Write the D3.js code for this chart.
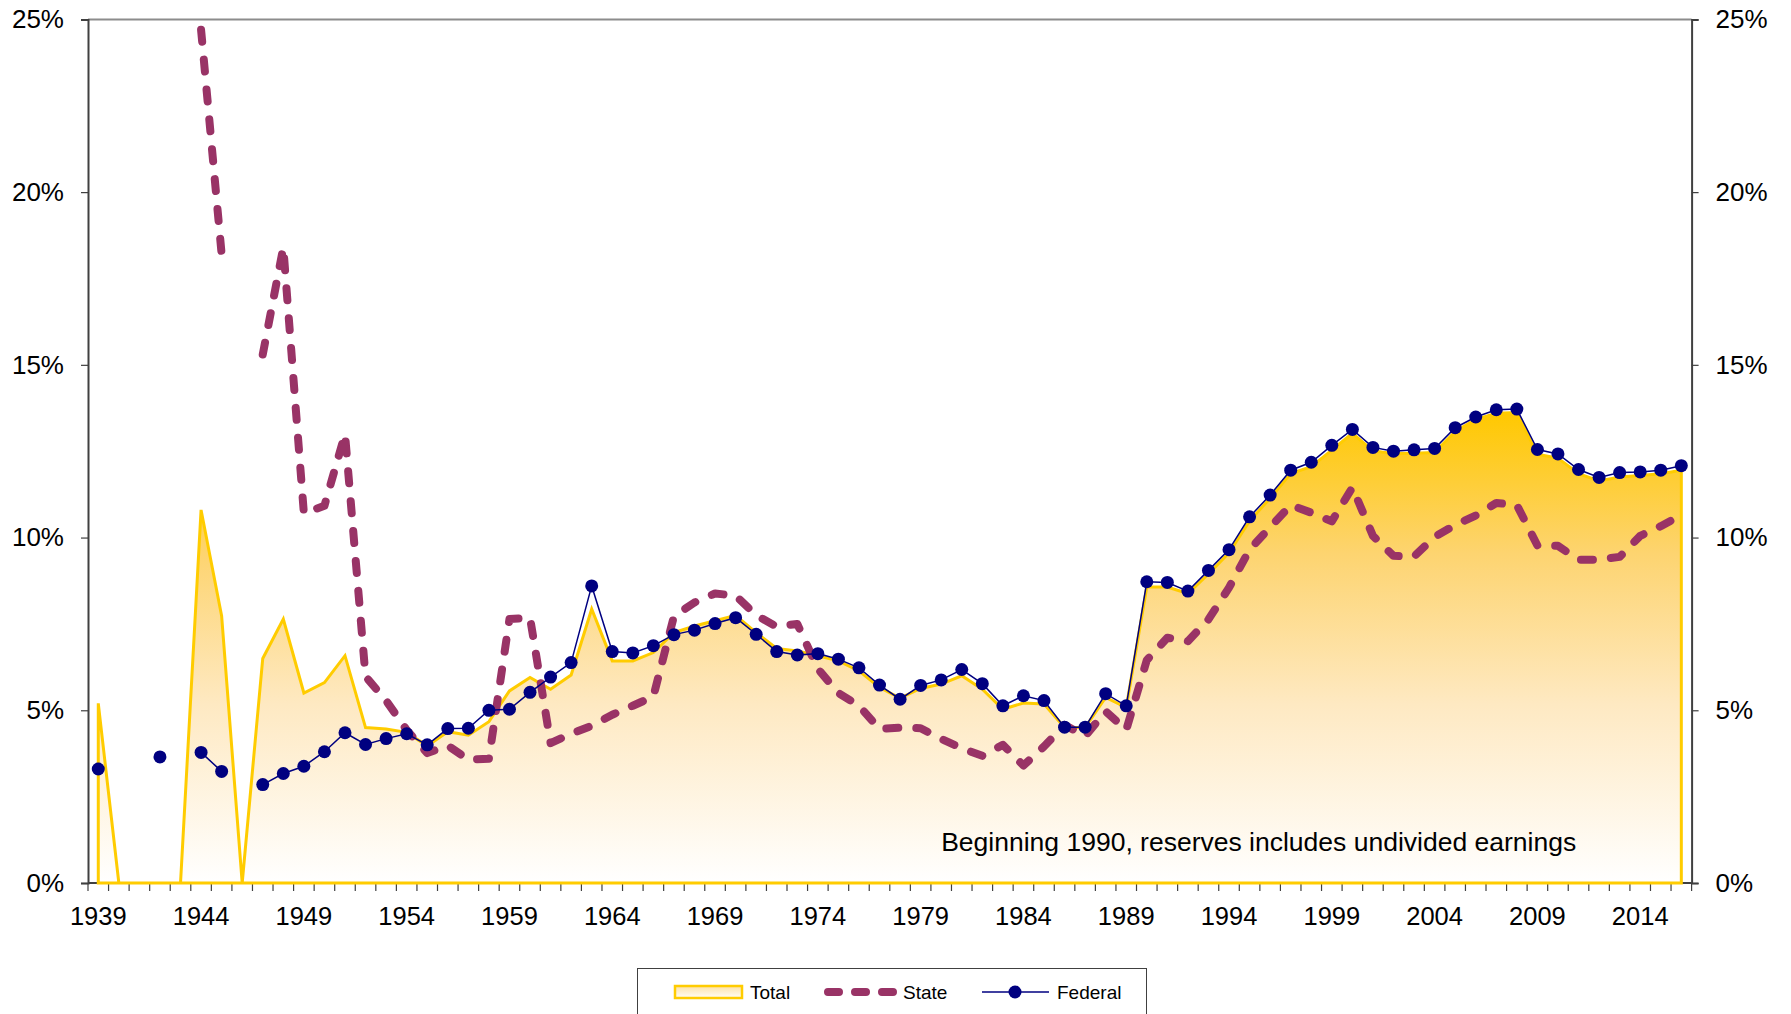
<!DOCTYPE html>
<html lang="en">
	<head>
		<meta charset="utf-8">
		<title>Reserves ratio: Total, State, Federal</title>
		<script src="https://cdn.jsdelivr.net/npm/d3@7"></script>
		<style type="text/css">
			body {
				margin: 0;
				background: #ffffff;
			}
			text {
				font-family: "Liberation Sans", Arial, sans-serif;
				fill: #000000;
			}
		</style>
	</head>
	<body>
		<div id="main"></div>

		<script type="text/javascript">

			// categories
			var years = [1939, 1940, 1941, 1942, 1943, 1944, 1945, 1946, 1947, 1948,
				1949, 1950, 1951, 1952, 1953, 1954, 1955, 1956, 1957, 1958,
				1959, 1960, 1961, 1962, 1963, 1964, 1965, 1966, 1967, 1968,
				1969, 1970, 1971, 1972, 1973, 1974, 1975, 1976, 1977, 1978,
				1979, 1980, 1981, 1982, 1983, 1984, 1985, 1986, 1987, 1988,
				1989, 1990, 1991, 1992, 1993, 1994, 1995, 1996, 1997, 1998,
				1999, 2000, 2001, 2002, 2003, 2004, 2005, 2006, 2007, 2008,
				2009, 2010, 2011, 2012, 2013, 2014, 2015, 2016];

			// series values, percent (null = no value that year)
			var total = [5.2, 0, 0, 0, 0, 10.8, 7.73, 0, 6.5, 7.64,
				5.5, 5.8, 6.58, 4.5, 4.46, 4.36, 3.97, 4.38, 4.28, 4.67,
				5.56, 5.95, 5.61, 6.02, 7.93, 6.43, 6.43, 6.67, 7.25, 7.44,
				7.59, 7.75, 7.25, 6.79, 6.72, 6.58, 6.43, 6.14, 5.66, 5.35,
				5.63, 5.76, 6.0, 5.61, 5.03, 5.21, 5.18, 4.5, 4.5, 5.37,
				5.08, 8.57, 8.57, 8.38, 8.95, 9.56, 10.48, 11.14, 11.85, 12.05,
				12.53, 13.02, 12.51, 12.43, 12.44, 12.46, 13.07, 13.42, 13.6, 13.62,
				12.41, 12.3, 11.85, 11.64, 11.75, 11.8, 11.85, 11.95];

			var state = [null, null, null, null, null, 24.7, 18.2, null, 15.3, 18.4,
				10.7, 10.92, 13.0, 5.98, 5.28, 4.43, 3.76, 3.98, 3.57, 3.6,
				7.64, 7.68, 4.05, 4.32, 4.55, 4.87, 5.13, 5.4, 7.72, 8.12,
				8.38, 8.32, 7.75, 7.42, 7.5, 6.2, 5.5, 5.13, 4.46, 4.5,
				4.48, 4.17, 3.9, 3.68, 4.0, 3.4, 3.95, 4.58, 4.25, 4.97,
				4.43, 6.45, 7.1, 7.0, 7.63, 8.55, 9.65, 10.3, 10.94, 10.72,
				10.47, 11.45, 10.05, 9.47, 9.45, 10.02, 10.36, 10.64, 11.0, 10.94,
				9.77, 9.76, 9.36, 9.36, 9.44, 10.05, 10.33, 10.65];

			var federal = [3.3, null, null, 3.65, null, 3.78, 3.23, null, 2.85, 3.17,
				3.38, 3.8, 4.35, 4.01, 4.18, 4.32, 4.0, 4.47, 4.48, 5.0,
				5.03, 5.52, 5.96, 6.38, 8.6, 6.7, 6.66, 6.87, 7.19, 7.32,
				7.51, 7.68, 7.2, 6.7, 6.6, 6.64, 6.48, 6.23, 5.73, 5.32,
				5.72, 5.88, 6.18, 5.77, 5.13, 5.42, 5.28, 4.51, 4.51, 5.48,
				5.13, 8.72, 8.7, 8.45, 9.05, 9.65, 10.6, 11.23, 11.95, 12.18,
				12.67, 13.13, 12.61, 12.5, 12.54, 12.58, 13.18, 13.49, 13.7, 13.72,
				12.55, 12.42, 11.97, 11.74, 11.88, 11.9, 11.95, 12.08];

			// tick labels
			var yTicks = [0, 5, 10, 15, 20, 25];
			var yearLabels = years.filter(function(d, i) { return i % 5 === 0; });
			var legendNames = ["Total", "State", "Federal"];
			var note = "Beginning 1990, reserves includes undivided earnings";

			var w = 1791;
			var h = 1014;
			var plotL = 88, plotR = 1691.6, plotT = 19.4, plotB = 883;

			var svg = d3.select("#main")
						.append("svg")
						.attr("width", w)
						.attr("height", h);

			var x = d3.scaleBand()
				.domain(years)
				.range([plotL, plotR])
				.padding(0);

			var y = d3.scaleLinear()
				.domain([0, 25])
				.range([plotB, plotT]);

			function cx(d, i) {
				return x(years[i]) + x.bandwidth() / 2;
			}

			// gradient for the total area
			var defs = svg.append("defs");
			var grad = defs.append("linearGradient")
				.attr("id", "totalFill")
				.attr("gradientUnits", "userSpaceOnUse")
				.attr("x1", 0).attr("x2", 0)
				.attr("y1", y(d3.max(total))).attr("y2", y(0));
			grad.append("stop").attr("offset", 0).attr("stop-color", "#ffc800");
			grad.append("stop").attr("offset", 0.3).attr("stop-color", "#fdd470");
			grad.append("stop").attr("offset", 0.62).attr("stop-color", "#fee9c2");
			grad.append("stop").attr("offset", 1).attr("stop-color", "#ffffff");

			var swatchGrad = defs.append("linearGradient")
				.attr("id", "swatchFill")
				.attr("x1", 0).attr("x2", 0)
				.attr("y1", 0).attr("y2", 1);
			swatchGrad.append("stop").attr("offset", 0).attr("stop-color", "#fde2a6");
			swatchGrad.append("stop").attr("offset", 1).attr("stop-color", "#fffdf8");

			// plot frame: top border
			svg.append("line")
				.attr("x1", plotL).attr("x2", plotR)
				.attr("y1", plotT).attr("y2", plotT)
				.attr("stroke", "#8c8c8c")
				.attr("stroke-width", 2);

			// x axis line and year ticks at category edges
			svg.append("line")
				.attr("x1", plotL).attr("x2", plotR)
				.attr("y1", plotB).attr("y2", plotB)
				.attr("stroke", "#404040")
				.attr("stroke-width", 2);

			svg.append("g")
				.selectAll("line")
				.data(years.concat([null]))
				.enter()
				.append("line")
				.attr("x1", function(d) { return d === null ? plotR : x(d); })
				.attr("x2", function(d) { return d === null ? plotR : x(d); })
				.attr("y1", plotB)
				.attr("y2", plotB + 8)
				.attr("stroke", "#404040")
				.attr("stroke-width", 1.2);

			var xAxis = svg.append("g")
				.attr("transform", "translate(0," + plotB + ")")
				.call(d3.axisBottom(x).tickValues(yearLabels).tickSize(0).tickPadding(24));
			xAxis.select(".domain").remove();
			xAxis.selectAll("text")
				.style("font-size", "25.5px")
				.attr("dy", "0.71em");

			// y axes, left and right
			var yLeft = svg.append("g")
				.attr("transform", "translate(" + plotL + ",0)")
				.call(d3.axisLeft(y).tickValues(yTicks).tickSize(7).tickPadding(17)
					.tickFormat(function(d) { return d + "%"; }));
			var yRight = svg.append("g")
				.attr("transform", "translate(" + plotR + ",0)")
				.call(d3.axisRight(y).tickValues(yTicks).tickSize(7).tickPadding(17)
					.tickFormat(function(d) { return d + "%"; }));

			[yLeft, yRight].forEach(function(g) {
				g.select(".domain")
					.attr("stroke", "#404040")
					.attr("stroke-width", 2);
				g.selectAll(".tick line")
					.attr("stroke", "#404040")
					.attr("stroke-width", 1.2);
				g.selectAll("text")
					.style("font-size", "26px");
			});

			// total area
			var area = d3.area()
				.x(cx)
				.y0(y(0))
				.y1(function(d) { return y(d); });

			svg.append("path")
				.datum(total)
				.attr("d", area)
				.attr("fill", "url(#totalFill)")
				.attr("stroke", "#ffcc00")
				.attr("stroke-width", 3);

			// state dashed line
			var line = d3.line()
				.defined(function(d) { return d !== null; })
				.x(cx)
				.y(function(d) { return y(d); });

			svg.append("path")
				.datum(state)
				.attr("d", line)
				.attr("fill", "none")
				.attr("stroke", "#993366")
				.attr("stroke-width", 8)
				.attr("stroke-linecap", "round")
				.attr("stroke-linejoin", "round")
				.attr("stroke-dasharray", "12,18");

			// federal line with markers
			svg.append("path")
				.datum(federal)
				.attr("d", line)
				.attr("fill", "none")
				.attr("stroke", "#000080")
				.attr("stroke-width", 1.5);

			svg.append("g")
				.selectAll("circle")
				.data(federal.map(function(v, i) { return {v: v, i: i}; })
					.filter(function(d) { return d.v !== null; }))
				.enter()
				.append("circle")
				.attr("cx", function(d) { return cx(null, d.i); })
				.attr("cy", function(d) { return y(d.v); })
				.attr("r", 6.5)
				.attr("fill", "#000080");

			// note, starts at the 1980 category centre
			svg.append("text")
				.attr("x", x(1980) + x.bandwidth() / 2)
				.attr("y", 851)
				.style("font-size", "26.5px")
				.text(note);

			// legend
			var lg = svg.append("g");
			lg.append("rect")
				.attr("x", 637.5).attr("y", 968.5)
				.attr("width", 509).attr("height", 60)
				.attr("fill", "#ffffff")
				.attr("stroke", "#404040")
				.attr("stroke-width", 1);

			var ly = 992;
			lg.append("rect")
				.attr("x", 675).attr("y", ly - 6)
				.attr("width", 67).attr("height", 12)
				.attr("fill", "url(#swatchFill)")
				.attr("stroke", "#ffcc00")
				.attr("stroke-width", 2.5);
			lg.append("line")
				.attr("x1", 828).attr("x2", 896)
				.attr("y1", ly).attr("y2", ly)
				.attr("stroke", "#993366")
				.attr("stroke-width", 8)
				.attr("stroke-linecap", "round")
				.attr("stroke-dasharray", "11,16");
			lg.append("line")
				.attr("x1", 982).attr("x2", 1049)
				.attr("y1", ly).attr("y2", ly)
				.attr("stroke", "#000080")
				.attr("stroke-width", 1.5);
			lg.append("circle")
				.attr("cx", 1015).attr("cy", ly)
				.attr("r", 6.5)
				.attr("fill", "#000080");

			lg.selectAll("text.name")
				.data(legendNames)
				.enter()
				.append("text")
				.attr("class", "name")
				.attr("x", function(d, i) { return [750, 903, 1057][i]; })
				.attr("y", ly)
				.attr("dy", "0.35em")
				.style("font-size", "19px")
				.text(function(d) { return d; });

		</script>
	</body>
</html>
